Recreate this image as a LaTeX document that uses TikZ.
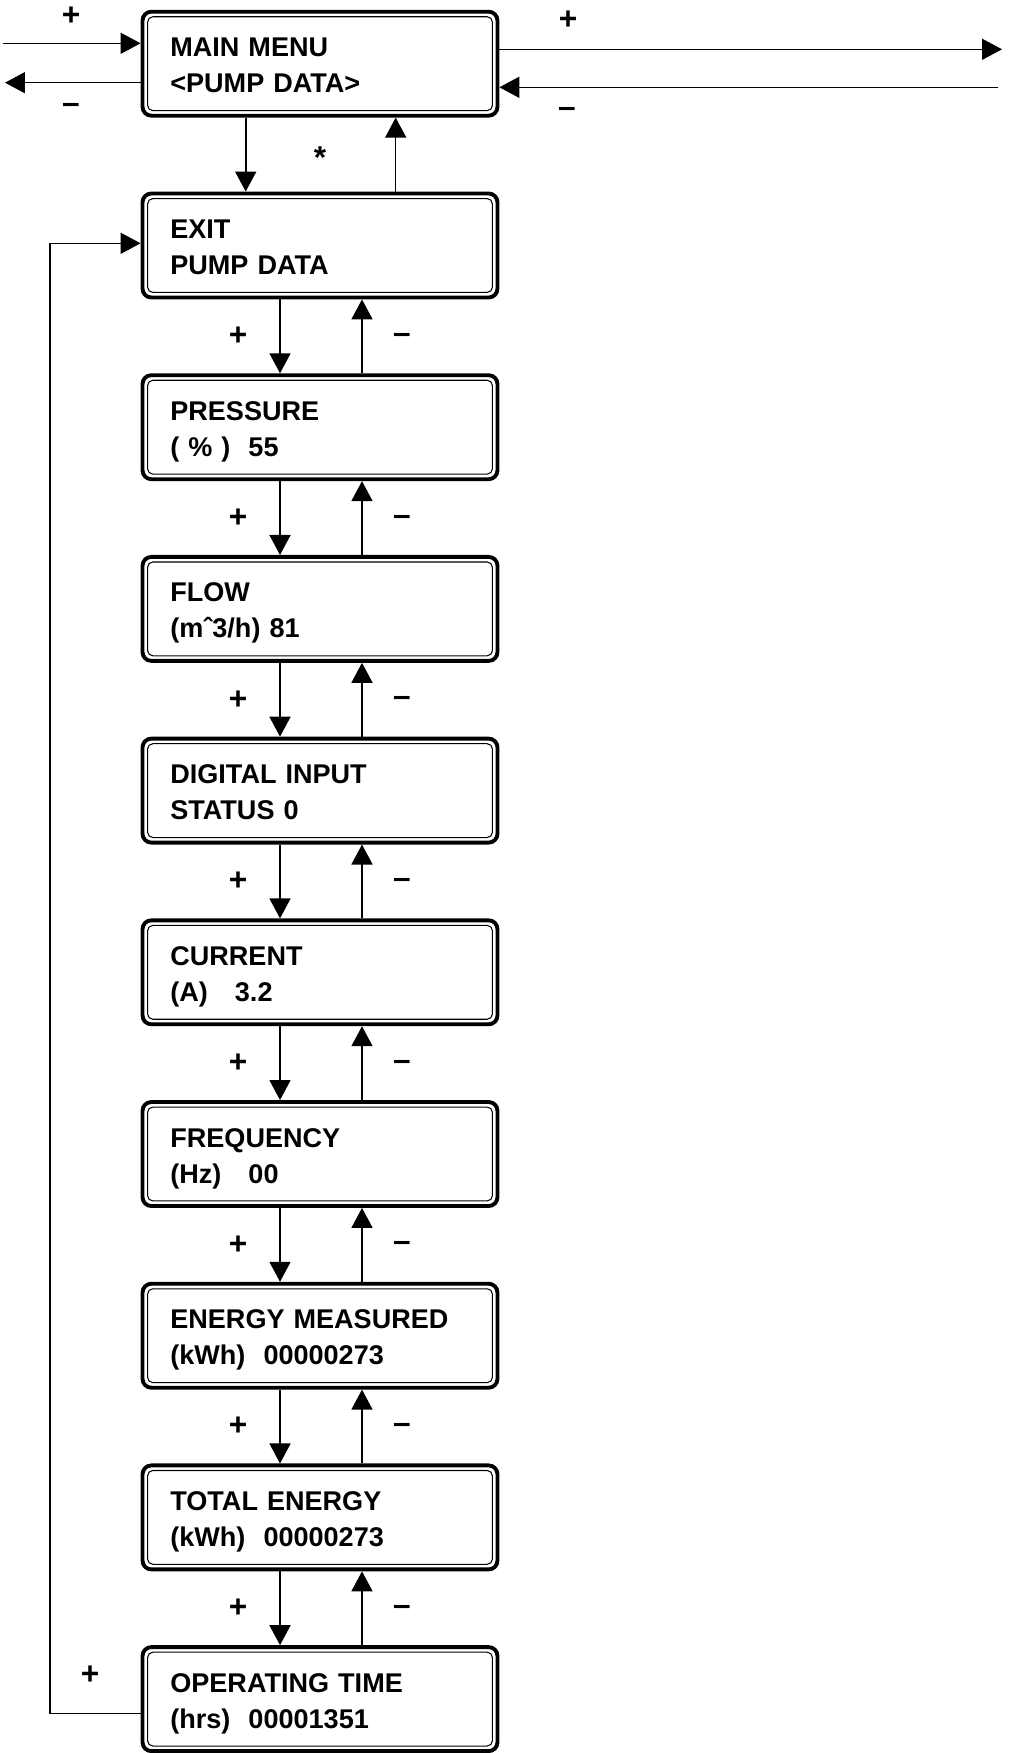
\documentclass[tikz,border=0pt]{standalone}
\usepackage{fontspec}
\setmainfont{Liberation Sans}
\usetikzlibrary{arrows.meta, positioning, calc}
\tikzset{
  menubox/.style={rectangle, draw=black, line width=2.2pt, rounded corners=5pt,
                  minimum width=7.1cm, minimum height=2.08cm, inner sep=0pt},
  menuline/.style={draw=black, line width=0.6pt, rounded corners=3pt},
  menutext/.style={anchor=base west, align=left, text width=6.6cm, inner sep=0pt,
                   font=\fontsize{15.4pt}{20.5pt}\selectfont\bfseries},
  sign/.style={inner sep=0pt, font=\fontsize{18pt}{20pt}\selectfont\bfseries},
  arr/.style={draw=black, line width=0.9pt, -{Triangle[length=0.4cm, width=0.42cm]}},
  wire/.style={draw=black, line width=0.9pt},
}
\begin{document}
\begin{tikzpicture}[x=0.02cm, y=-0.02cm]
    \useasboundingbox (0,0) rectangle (1009,1753);
    %% menu boxes
    \node[menubox] (main)   at (320,63.7)   {};
    \node[menubox] (exit)   at (320,245.5)  {};
    \node[menubox] (press)  at (320,427.2)  {};
    \node[menubox] (flow)   at (320,608.9)  {};
    \node[menubox] (dig)    at (320,790.6)  {};
    \node[menubox] (curr)   at (320,972.3)  {};
    \node[menubox] (freq)   at (320,1154.0) {};
    \node[menubox] (emeas)  at (320,1335.7) {};
    \node[menubox] (etot)   at (320,1517.4) {};
    \node[menubox] (optime) at (320,1699.1) {};
    %% inner frame
    \foreach \b in {main,exit,press,flow,dig,curr,freq,emeas,etot,optime}
      \draw[menuline] ([shift={(0.14cm,-0.14cm)}]\b.north west)
        rectangle ([shift={(-0.14cm,0.14cm)}]\b.south east);
    %% texts
    \node[menutext] (mainT)   at (170,56.7)   {MAIN MENU\\<PUMP DATA>};
    \node[menutext] (exitT)   at (170,238.5)  {EXIT\\PUMP DATA};
    \node[menutext] (pressT)  at (170,420.2)  {PRESSURE\\( \% )\ \ 55};
    \node[menutext] (flowT)   at (170,601.9)  {FLOW\\(mˆ3/h) 81};
    \node[menutext] (digT)    at (170,783.6)  {DIGITAL INPUT\\STATUS 0};
    \node[menutext] (currT)   at (170,965.3)  {CURRENT\\(A)\ \ \ 3.2};
    \node[menutext] (freqT)   at (170,1147.0) {FREQUENCY\\(Hz)\ \ \ 00};
    \node[menutext] (emeasT)  at (170,1328.7) {ENERGY MEASURED\\(kWh)\ \ 00000273};
    \node[menutext] (etotT)   at (170,1510.4) {TOTAL ENERGY\\(kWh)\ \ 00000273};
    \node[menutext] (optimeT) at (170,1692.1) {OPERATING TIME\\(hrs)\ \ 00001351};
    %% main menu <-> exit
    \draw[arr] ([xshift=-1.486cm]main.south) -- ([xshift=-1.486cm]exit.north);
    \draw[arr] ([xshift=1.514cm]exit.north) -- ([xshift=1.514cm]main.south);
    \node[sign, anchor=base] (star) at (320,169) {*};
    %% down the list
    \foreach \a/\b [count=\i] in {exit/press, press/flow, flow/dig, dig/curr,
                                  curr/freq, freq/emeas, emeas/etot, etot/optime}{
      \draw[arr] ([xshift=-0.8cm]\a.south) -- ([xshift=-0.8cm]\b.north);
      \draw[arr] ([xshift=0.84cm]\b.north) -- ([xshift=0.84cm]\a.south);
      \node[sign] (plus\i)  at ($(\a.south)!0.5!(\b.north)+(-82,0)$) {+};
      \node[sign] (minus\i) at ($(\a.south)!0.5!(\b.north)+(82,2)$) {\textendash};
    }
    %% side arrows of main menu
    \coordinate (inL)  at (3,43.3);
    \coordinate (outL) at (5,82.7);
    \coordinate (outR) at (1002,49.3);
    \coordinate (inR)  at (998,87.3);
    \draw[arr] (inL) -- (inL -| main.west);
    \draw[arr] (outL -| main.west) -- (outL);
    \draw[arr] (outR -| main.east) -- (outR);
    \draw[arr] (inR) -- (inR -| main.east);
    \node[sign] (plusL)  at (71,16)   {+};
    \node[sign] (minusL) at (71,108)  {\textendash};
    \node[sign] (plusR)  at (568,20)  {+};
    \node[sign] (minusR) at (567,112) {\textendash};
    %% back to exit
    \coordinate (loopB) at (50,1713.3);
    \coordinate (loopT) at (50,243.3);
    \draw[wire] (loopB -| optime.west) -- (loopB) -- (loopT);
    \draw[arr] (loopT) -- (loopT -| exit.west);
    \node[sign] (plusB) at (90,1675) {+};
\end{tikzpicture}
\end{document}
